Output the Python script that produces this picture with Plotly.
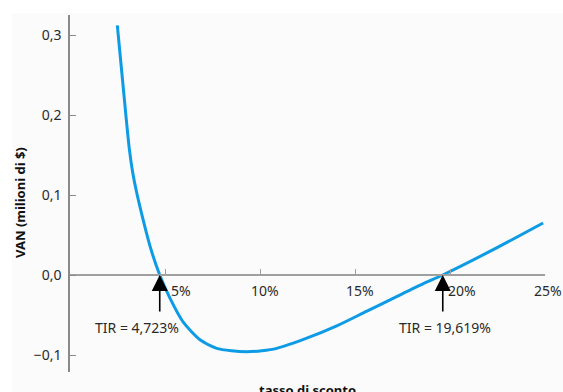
import plotly.graph_objects as go

# discount rate (%) and NPV (millions $)
rate = [2.49, 2.8, 2.96, 3.12, 3.3, 3.5, 3.86, 4.25, 4.723, 5.26, 5.96, 6.84, 7.72,
        8.5, 9.3, 10.1, 10.88, 12.46, 14.04, 15.6, 17.19, 18.6, 19.619, 22.3, 24.9]
npv = [0.312, 0.235, 0.195, 0.158, 0.128, 0.104, 0.068, 0.033, 0.0, -0.029, -0.059,
       -0.081, -0.0917, -0.0947, -0.0958, -0.0947, -0.0917, -0.079, -0.0636, -0.0455,
       -0.027, -0.0108, 0.0, 0.032, 0.065]

x_ticks = [5, 10, 15, 20, 25]
x_tick_labels = ["5%", "10%", "15%", "20%", "25%"]
y_ticks = [-0.1, 0.0, 0.1, 0.2, 0.3]

irr_values = [4.723, 19.619]
irr_labels = ["TIR = 4,723%", "TIR = 19,619%"]

FONT = "Noto Sans"
W, H = 563, 392
ML, MR, MT, MB = 70, 18, 15, 20
YMIN, YMAX = -0.12125, 0.325

fig = go.Figure()
fig.add_trace(go.Scatter(x=rate, y=npv, mode="lines",
                         line=dict(color="#0e9be6", width=3, shape="spline", smoothing=0.7),
                         hoverinfo="skip", showlegend=False))

zero_pos = (0 - YMIN) / (YMAX - YMIN)

fig.update_layout(
    width=W, height=H,
    margin=dict(l=ML, r=MR, t=MT, b=MB, autoexpand=False),
    paper_bgcolor="white", plot_bgcolor="rgba(0,0,0,0)",
    separators=",.",
    font=dict(family=FONT, size=14, color="#2a2a2a"),
    xaxis=dict(range=[0, 25], anchor="free", position=zero_pos,
               showline=True, linecolor="#a0a0a0", linewidth=2,
               ticks="inside", tickvals=x_ticks, ticklen=5, tickcolor="#a0a0a0", tickwidth=1,
               showticklabels=False, showgrid=False, zeroline=False),
    yaxis=dict(range=[YMIN, YMAX], showline=True, linecolor="#8a8a8a", linewidth=1.5,
               ticks="inside", tickvals=y_ticks, ticklen=6, tickcolor="#8a8a8a", tickwidth=1,
               tickformat=".1f", showgrid=False, zeroline=False,
               ticklabelstandoff=4),
)

# background panel (slightly off-white)
pw = W - ML - MR
ph = H - MT - MB
fig.add_shape(type="rect", xref="paper", yref="paper",
              x0=(12 - ML) / pw, x1=(W - ML) / pw,
              y0=-MB / ph, y1=(H - MB - 13) / ph,
              fillcolor="#fbfbfb", line=dict(width=0), layer="below")

# x tick labels (placed to the right of the ticks)
label_shift = [16, 5, 5, 12, 3]
for v, t, s in zip(x_ticks, x_tick_labels, label_shift):
    fig.add_annotation(x=v, y=0, xref="x", yref="y", text=t, showarrow=False,
                       xanchor="center", yanchor="middle", xshift=s, yshift=-15,
                       font=dict(family=FONT, size=14, color="#2a2a2a"))

# IRR arrows and labels
text_shift = [-23, 2]
for v, t, s in zip(irr_values, irr_labels, text_shift):
    fig.add_annotation(x=v, y=0, xref="x", yref="y", text="", showarrow=True,
                       ax=0, ay=38, arrowhead=2, arrowsize=2.0, arrowwidth=1.6,
                       arrowcolor="black", standoff=0)
    fig.add_annotation(x=v, y=0, xref="x", yref="y", text=t, showarrow=False,
                       xanchor="center", yanchor="middle", xshift=s, yshift=-52,
                       font=dict(family=FONT, size=14, color="#2a2a2a"))

# axis titles
fig.add_annotation(x=0, y=(H - MB - 203) / ph, xref="paper", yref="paper",
                   text="<b>VAN (milioni di $)</b>", textangle=-90, showarrow=False,
                   xanchor="center", yanchor="middle", xshift=-50,
                   font=dict(family=FONT, size=13, color="#111"))
fig.add_annotation(x=(307 - ML) / pw, y=0, xref="paper", yref="paper",
                   text="<b>tasso di sconto</b>", showarrow=False,
                   xanchor="center", yanchor="top", yshift=-7,
                   font=dict(family=FONT, size=13, color="#111"))

fig.write_html("out.html", config={"displayModeBar": False},
               post_script="document.body.style.margin='0px';document.body.style.overflow='hidden';")
